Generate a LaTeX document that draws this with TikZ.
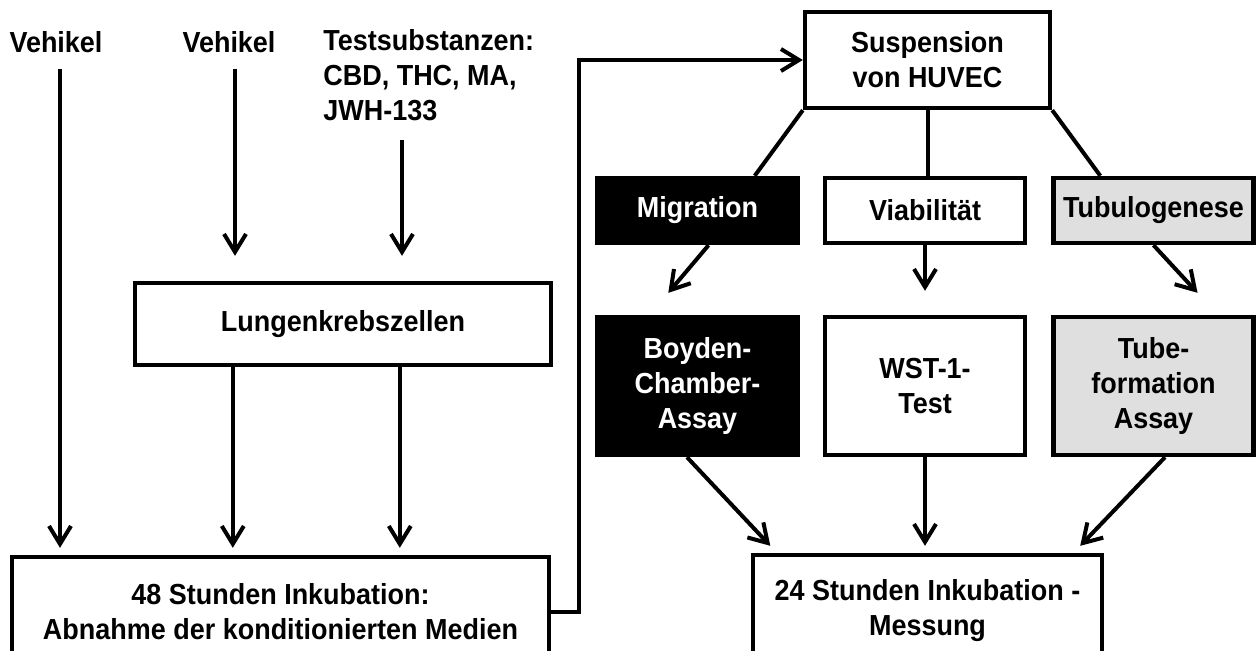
\documentclass[tikz,border=0pt]{standalone}
\usepackage{fontspec}
\setmainfont{Liberation Sans}[FakeStretch=0.93]
\usetikzlibrary{arrows.meta}

\begin{document}
\begin{tikzpicture}[x=0.5pt, y=-0.5pt,
  font=\fontsize{14.5}{17.5}\selectfont\bfseries,
  box/.style={draw, line width=2.2pt, align=center, inner sep=0pt},
  darkbox/.style={box, fill=black, text=white},
  greybox/.style={box, fill=gray!25},
  lbl/.style={inner sep=0pt, align=left},
  arr/.style={-{Straight Barb[length=9pt,width=11pt]}, line width=2pt},
  ln/.style={line width=2pt}]
  \useasboundingbox (0,0) rectangle (1256,650);
  \clip (0,0) rectangle (1256,650);

  % left half: cell culture
  \node[lbl, anchor=base] (veh1) at (56,52) {Vehikel};
  \node[lbl, anchor=base] (veh2) at (229,52) {Vehikel};
  \node[lbl, anchor=north west] (test) at (323,29) {Testsubstanzen:\\CBD, THC, MA,\\JWH-133};
  \node[box, minimum width=208pt, minimum height=41pt] (lung) at (343,324) {Lungenkrebszellen};
  \node[box, minimum width=268.5pt, minimum height=55pt] (inc48) at (280.5,612)
    {48 Stunden Inkubation:\\Abnahme der konditionierten Medien};

  % right half: HUVEC assays
  \node[box, minimum width=122.5pt, minimum height=48pt] (susp) at (927.5,60) {Suspension\\von HUVEC};
  \node[darkbox, minimum width=100pt, minimum height=32.5pt] (mig) at (697.5,210.5) {Migration};
  \node[box, minimum width=100pt, minimum height=32.5pt] (viab) at (925,210.5) {Viabilität};
  \node[greybox, minimum width=100pt, minimum height=32.5pt] (tubu) at (1153.5,210.5) {Tubulogenese};
  \node[darkbox, minimum width=100pt, minimum height=69pt] (boyd) at (697.5,386) {Boyden-\\Chamber-\\Assay};
  \node[box, minimum width=100pt, minimum height=69pt] (wst) at (925,386) {WST-1-\\Test};
  \node[greybox, minimum width=100pt, minimum height=69pt] (tube) at (1153.5,386) {Tube-\\formation\\Assay};
  \node[box, minimum width=174.5pt, minimum height=56pt] (inc24) at (927.5,611)
    {24 Stunden Inkubation -\\Messung};

  \draw[arr] ([xshift=2pt,yshift=-8pt]veh1.south) -- ([xshift=2pt,yshift=3.5pt]veh1.south |- inc48.north);
  \draw[arr] ([xshift=3pt,yshift=-8pt]veh2.south) -- ([xshift=3pt,yshift=12.5pt]veh2.south |- lung.north);
  \draw[arr] ([xshift=39.5pt,yshift=-9.5pt]test.south west) -- ([xshift=39.5pt,yshift=12.5pt]test.south west |- lung.north);
  \foreach \dx in {50pt,133.5pt}{
    \draw[arr] ([xshift=\dx]lung.south west) -- ([xshift=\dx,yshift=3.5pt]lung.south west |- inc48.north); }
  \draw[arr] (inc48.east) -- ++(14pt,0) |- (susp.west);

  \draw[ln] (susp.south west) -- ([xshift=-22.5pt]mig.north east);
  \draw[ln] (susp.south) -- (susp.south |- viab.north);
  \draw[ln] (susp.south east) -- ([xshift=24.5pt]tubu.north west);

  \draw[arr] ([xshift=5.5pt]mig.south) -- ([xshift=36.5pt,yshift=11pt]boyd.north west);
  \draw[arr] (viab.south) -- ([yshift=12pt]wst.north);
  \draw[arr] (tubu.south) -- ([xshift=22pt,yshift=11pt]tube.north);

  \draw[arr] ([xshift=-5.25pt]boyd.south) -- ([xshift=9.75pt,yshift=3.5pt]inc24.north west);
  \draw[arr] (wst.south) -- ([yshift=3.5pt]wst.south |- inc24.north);
  \draw[arr] ([xshift=5.75pt]tube.south) -- ([xshift=-12pt,yshift=3.5pt]inc24.north east);
\end{tikzpicture}
\end{document}
